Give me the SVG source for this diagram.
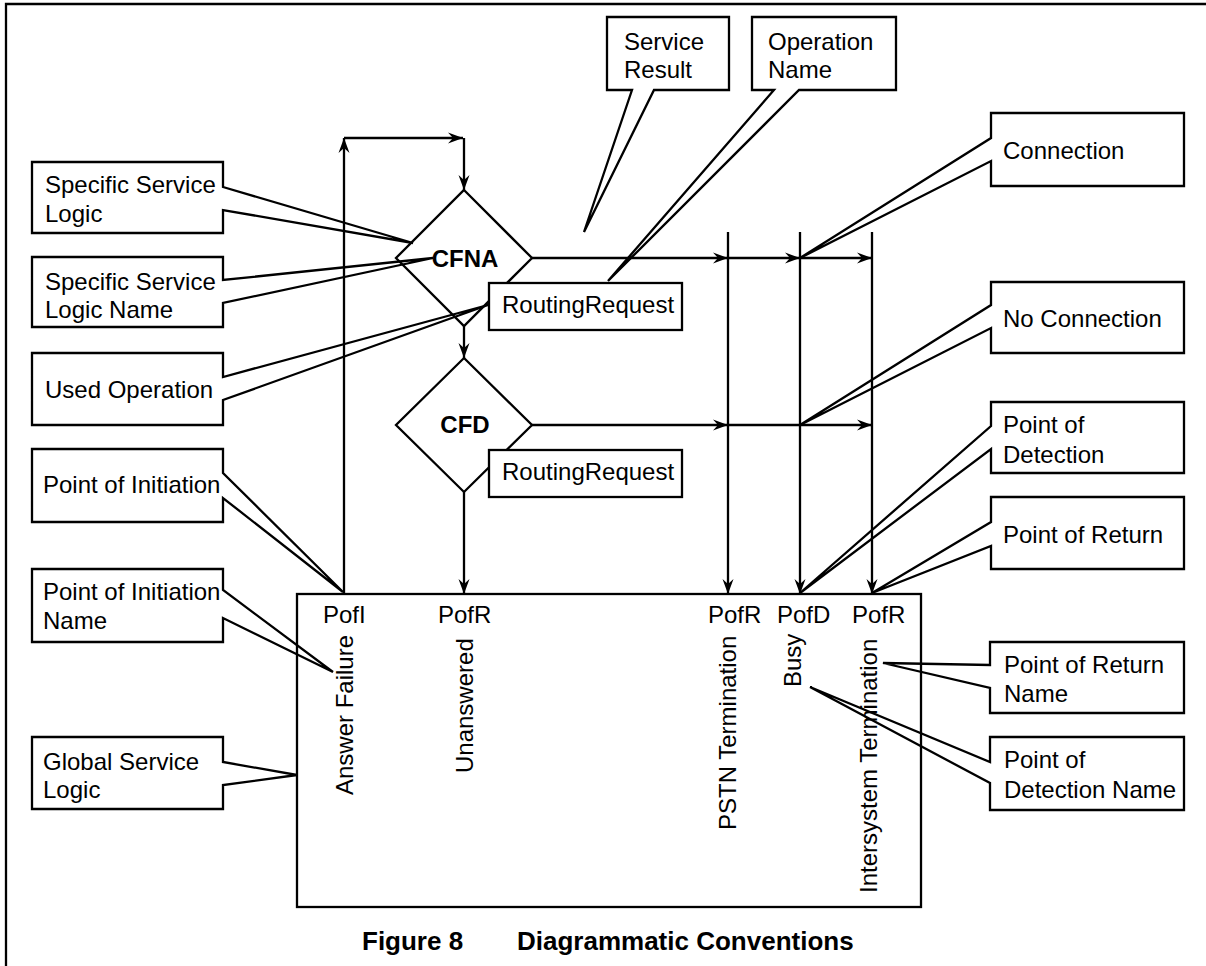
<svg xmlns="http://www.w3.org/2000/svg" width="1206" height="966" viewBox="0 0 1206 966">
<style>
.t{font-family:"Liberation Sans",Arial,Helvetica,sans-serif;font-size:24px;fill:#000}
.b{font-weight:bold}
.cap{font-size:26px}
.ln{stroke:#000;stroke-width:2.3;fill:none}
.arr{stroke:#000;stroke-width:2.3;fill:none;marker-end:url(#ah)}
.co{stroke:#000;stroke-width:2.3;fill:none;stroke-linejoin:miter}
.wb{stroke:#000;stroke-width:2.3;fill:#fff}
</style>
<defs>
<marker id="ah" viewBox="-17 -7 18 14" refX="0" refY="0" markerWidth="18" markerHeight="14" markerUnits="userSpaceOnUse" orient="auto">
<path d="M0,0 L-15,-5.5 L-10,0 L-15,5.5 Z" fill="#000"/>
</marker>
</defs>
<rect width="1206" height="966" fill="#fff"/>
<path class="ln" d="M6,966 V4 H1206" stroke-width="3"/>

<g id="connectors">
<path class="arr" d="M344,594 V138"/>
<path class="arr" d="M344,138 H463"/>
<path class="arr" d="M464,138 V190"/>
<path class="arr" d="M464,326 V358"/>
<path class="arr" d="M464,492 V594"/>
<path class="arr" d="M532,258 H728"/>
<path class="arr" d="M728,258 H800"/>
<path class="arr" d="M800,258 H872"/>
<path class="arr" d="M532,425 H728"/>
<path class="arr" d="M728,425 H872"/>
<path class="arr" d="M728,232 V594"/>
<path class="arr" d="M800,232 V594"/>
<path class="arr" d="M872,232 V594"/>
</g>

<g id="cfna">
<polygon class="wb" points="464,190 532,258 464,326 396,258"/>
<text class="t b" x="465" y="267" text-anchor="middle">CFNA</text>
</g>
<g id="cfd">
<polygon class="wb" points="464,358 532,425 464,492 396,425"/>
<text class="t b" x="465" y="433" text-anchor="middle">CFD</text>
</g>
<g id="rr1">
<rect class="wb" x="489" y="283" width="193" height="47"/>
<text class="t" x="502" y="313">RoutingRequest</text>
</g>
<g id="rr2">
<rect class="wb" x="489" y="450" width="193" height="47"/>
<text class="t" x="502" y="480">RoutingRequest</text>
</g>

<g id="global-box">
<rect class="ln" x="297" y="594" width="624" height="313"/>
<text class="t" x="323" y="623">PofI</text>
<text class="t" x="438" y="623">PofR</text>
<text class="t" x="708" y="623">PofR</text>
<text class="t" x="777" y="623">PofD</text>
<text class="t" x="852" y="623">PofR</text>
<text class="t" transform="translate(353,795) rotate(-90)">Answer Failure</text>
<text class="t" transform="translate(473,773) rotate(-90)">Unanswered</text>
<text class="t" transform="translate(736,830) rotate(-90)">PSTN Termination</text>
<text class="t" transform="translate(801,687) rotate(-90)">Busy</text>
<text class="t" transform="translate(877,893) rotate(-90)">Intersystem Termination</text>
</g>

<g id="c-specific-service-logic">
<path class="co" d="M32,162 H223 V187 L413,243 L223,210 V233 H32 Z"/>
<text class="t" x="45" y="193">Specific Service</text>
<text class="t" x="45" y="222">Logic</text>
</g>
<g id="c-specific-service-logic-name">
<path class="co" d="M32,257 H223 V280 L433,258 L223,303 V327 H32 Z"/>
<text class="t" x="45" y="290">Specific Service</text>
<text class="t" x="45" y="318">Logic Name</text>
</g>
<g id="c-used-operation">
<path class="co" d="M32,353 H223 V377 L488,305 L223,400 V425 H32 Z"/>
<text class="t" x="45" y="398">Used Operation</text>
</g>
<g id="c-point-of-initiation">
<path class="co" d="M32,449 H223 V473 L343,592 L223,498 V522 H32 Z"/>
<text class="t" x="43" y="493">Point of Initiation</text>
</g>
<g id="c-point-of-initiation-name">
<path class="co" d="M32,569 H223 V590 L333,672 L223,618 V642 H32 Z"/>
<text class="t" x="43" y="600">Point of Initiation</text>
<text class="t" x="43" y="629">Name</text>
</g>
<g id="c-global-service-logic">
<path class="co" d="M32,737 H223 V762 L297,775 L223,785 V809 H32 Z"/>
<text class="t" x="43" y="770">Global Service</text>
<text class="t" x="43" y="798">Logic</text>
</g>

<g id="c-service-result">
<path class="co" d="M607,17 H729 V90 H654 L584,232 L632,90 H607 Z"/>
<text class="t" x="624" y="50">Service</text>
<text class="t" x="624" y="78">Result</text>
</g>
<g id="c-operation-name">
<path class="co" d="M752,17 H896 V90 H799 L608,281 L774,90 H752 Z"/>
<text class="t" x="768" y="50">Operation</text>
<text class="t" x="768" y="78">Name</text>
</g>

<g id="c-connection">
<path class="co" d="M991,113 H1184 V186 H991 V161 L800,258 L991,138 Z"/>
<text class="t" x="1003" y="159">Connection</text>
</g>
<g id="c-no-connection">
<path class="co" d="M991,282 H1184 V353 H991 V328 L800,425 L991,305 Z"/>
<text class="t" x="1003" y="327">No Connection</text>
</g>
<g id="c-point-of-detection">
<path class="co" d="M991,402 H1184 V473 H991 V449 L800,593 L991,426 Z"/>
<text class="t" x="1003" y="433">Point of</text>
<text class="t" x="1003" y="463">Detection</text>
</g>
<g id="c-point-of-return">
<path class="co" d="M991,497 H1184 V569 H991 V546 L872,593 L991,522 Z"/>
<text class="t" x="1003" y="543">Point of Return</text>
</g>
<g id="c-point-of-return-name">
<path class="co" d="M990,642 H1184 V713 H990 V688 L883,663 L990,665 Z"/>
<text class="t" x="1004" y="673">Point of Return</text>
<text class="t" x="1004" y="702">Name</text>
</g>
<g id="c-point-of-detection-name">
<path class="co" d="M990,737 H1184 V810 H990 V783 L810,687 L990,762 Z"/>
<text class="t" x="1004" y="768">Point of</text>
<text class="t" x="1004" y="798">Detection Name</text>
</g>

<g id="caption">
<text class="t b cap" x="362" y="950">Figure 8</text>
<text class="t b cap" x="517" y="950">Diagrammatic Conventions</text>
</g>
</svg>
